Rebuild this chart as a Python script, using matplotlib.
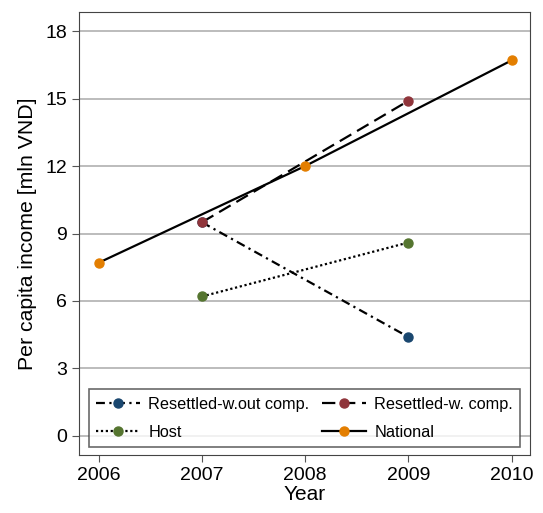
import matplotlib
matplotlib.use("Agg")
import matplotlib.pyplot as plt

plt.rcParams['font.family'] = ['Liberation Sans', 'DejaVu Sans']

# data
years_resettled = [2007, 2009]
wout_comp = [9.5, 4.4]
w_comp = [9.5, 14.9]
host = [6.2, 8.6]
years_national = [2006, 2008, 2010]
national = [7.7, 12.0, 16.7]

yticks = [0, 3, 6, 9, 12, 15, 18]
xticks = [2006, 2007, 2008, 2009, 2010]

fig = plt.figure(figsize=(5.43, 5.13), dpi=100)
ax = fig.add_axes([0.1455, 0.113, 0.831, 0.8636])

lw = 1.6
ms = 6.5
l1, = ax.plot(years_resettled, wout_comp, color='black', lw=lw, dashes=(4, 2, 1, 2),
              marker='o', ms=ms, mfc='#1a476f', mec='#1a476f', label='Resettled-w.out comp.')
l2, = ax.plot(years_resettled, w_comp, color='black', lw=lw, dashes=(6, 3),
              marker='o', ms=ms, mfc='#90353b', mec='#90353b', label='Resettled-w. comp.')
l3, = ax.plot(years_resettled, host, color='black', lw=lw, dashes=(1, 1.2),
              marker='o', ms=ms, mfc='#55752f', mec='#55752f', label='Host')
l4, = ax.plot(years_national, national, color='black', lw=lw, linestyle='-',
              marker='o', ms=ms, mfc='#e37e00', mec='#e37e00', label='National')

ax.set_xlim(2005.81, 2010.18)
ax.set_ylim(-0.85, 18.85)
ax.set_xticks(xticks)
ax.set_yticks(yticks)
ax.grid(axis='y', color='#b0b0b0', lw=1.2)
ax.set_axisbelow(True)
ax.tick_params(labelsize=14, direction='out', length=5, color='#555555')
for s in ax.spines.values():
    s.set_color('#444444')
ax.set_xlabel('Year', fontsize=15, labelpad=1)
ax.set_ylabel('Per capita income [mln VND]', fontsize=15.3, labelpad=6)

# row-major order like the original: matplotlib fills columns first
order = [l1, l3, l2, l4]
leg = ax.legend(order, [h.get_label() for h in order], ncol=2,
                loc='lower center', bbox_to_anchor=(0.5, 0.018),
                borderaxespad=0, fontsize=11.7, frameon=True, fancybox=False,
                edgecolor='#444444', handlelength=2.7, columnspacing=0.8,
                handletextpad=0.5, labelspacing=0.8, borderpad=0.45)
leg.get_frame().set_linewidth(1.2)

fig.savefig('out.png', dpi=100)
